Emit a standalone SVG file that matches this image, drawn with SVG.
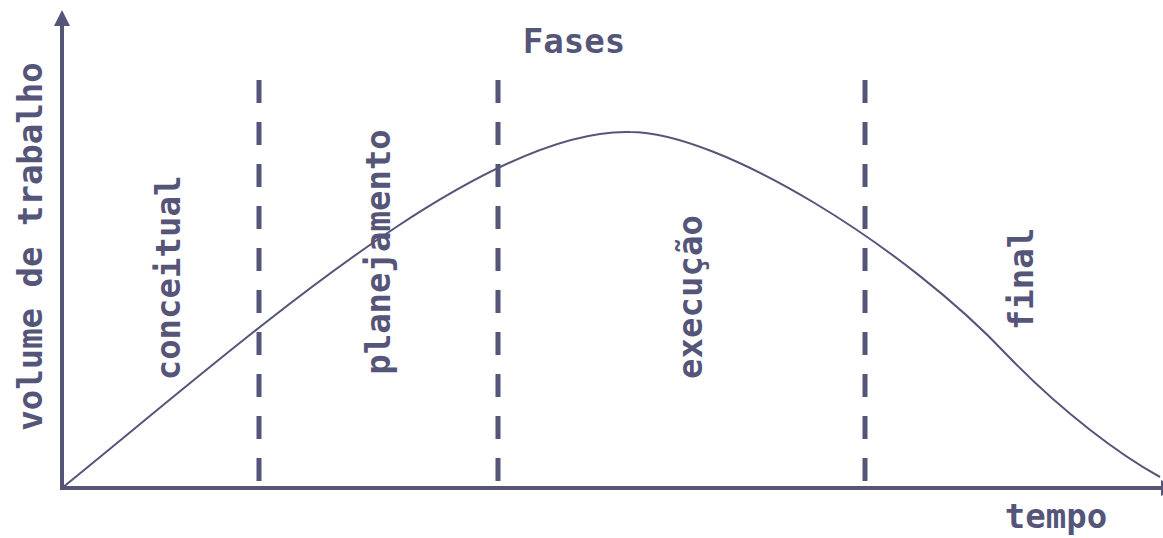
<svg xmlns="http://www.w3.org/2000/svg" width="1163" height="538" viewBox="0 0 1163 538">
<style>
.t{font-family:"DejaVu Sans Mono","Liberation Mono",monospace;font-weight:bold;font-size:34px;fill:#55557a}
.axis{stroke:#55557a;stroke-width:4;fill:none}
.dash{stroke:#55557a;stroke-width:5;stroke-dasharray:23 19;fill:none}
.curve{stroke:#55557a;stroke-width:2;fill:none}
</style>
<rect width="1163" height="538" fill="#ffffff"/>
<g id="axes">
<line class="axis" x1="62" y1="490" x2="62" y2="22"/>
<polygon points="62,10 70,26 54,26" fill="#55557a"/>
<line class="axis" x1="60" y1="488" x2="1162" y2="488"/>
<polygon points="1161,480 1177,488 1161,496" fill="#55557a"/>
</g>
<g id="dividers">
<line class="dash" x1="259" y1="80" x2="259" y2="482"/>
<line class="dash" x1="498" y1="80" x2="498" y2="482"/>
<line class="dash" x1="865" y1="80" x2="865" y2="482"/>
</g>
<g id="curve">
<path class="curve" d="M62,488 C245,340 480,128 630,132 C720,132 905,246 1008,356 C1062,412 1120,455 1160,477"/>
</g>
<g id="labels">
<text class="t" x="574" y="53" text-anchor="middle">Fases</text>
<text class="t" x="1056" y="528" text-anchor="middle">tempo</text>
<text class="t" transform="translate(42,246.5) rotate(-90)" text-anchor="middle">volume de trabalho</text>
<text class="t" transform="translate(180,278) rotate(-90)" text-anchor="middle">conceitual</text>
<text class="t" transform="translate(390,252) rotate(-90)" text-anchor="middle">planejamento</text>
<text class="t" transform="translate(702,297) rotate(-90)" text-anchor="middle">execução</text>
<text class="t" transform="translate(1033,279) rotate(-90)" text-anchor="middle">final</text>
</g>
</svg>
